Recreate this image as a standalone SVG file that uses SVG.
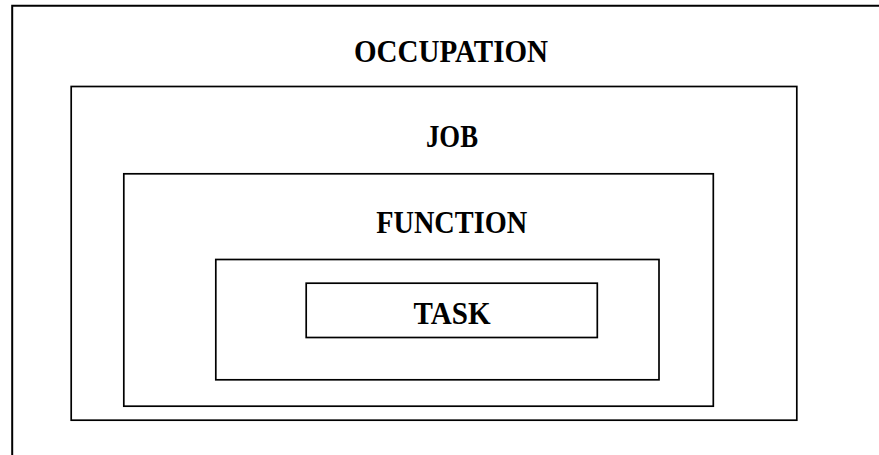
<svg xmlns="http://www.w3.org/2000/svg" width="879" height="455" viewBox="0 0 879 455">
<style>
.box{fill:none;stroke:#000;stroke-width:1.7}
.lbl{font-family:"Liberation Serif","Times New Roman",serif;font-weight:bold;font-size:31px;fill:#000;text-anchor:middle}
</style>
<rect x="0" y="0" width="879" height="455" fill="#fff"/>
<g id="occupation">
<path class="box" d="M12.2,460 V5.7 H885" style="stroke-width:2"/>
<text class="lbl" x="451" y="61.5" textLength="194" lengthAdjust="spacingAndGlyphs">OCCUPATION</text>
</g>
<g id="job">
<rect class="box" x="71.2" y="86.5" width="725.6" height="333.7"/>
<text class="lbl" x="452" y="147" textLength="52" lengthAdjust="spacingAndGlyphs">JOB</text>
</g>
<g id="function">
<rect class="box" x="123.8" y="173.8" width="589.5" height="232.4"/>
<text class="lbl" x="451.7" y="232.5" textLength="151" lengthAdjust="spacingAndGlyphs">FUNCTION</text>
</g>
<g id="task-container">
<rect class="box" x="215.8" y="259.5" width="443.2" height="120.3"/>
</g>
<g id="task">
<rect class="box" x="306.2" y="283.2" width="291.1" height="54.3"/>
<text class="lbl" x="452" y="324" textLength="77" lengthAdjust="spacingAndGlyphs">TASK</text>
</g>
<g id="connectors"></g>
</svg>
